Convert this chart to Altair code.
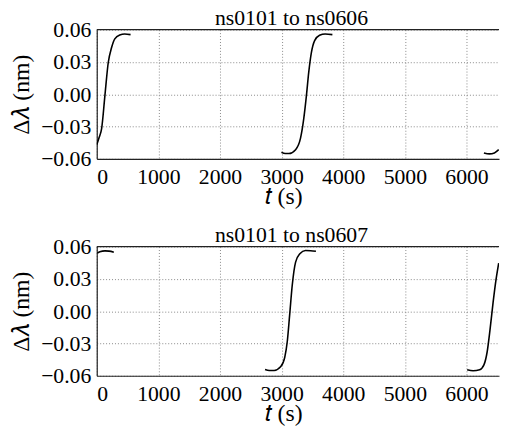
import altair as alt
import pandas as pd

# Panel 1: ns0101 to ns0606 -- three segments
p1_seg1_t = [0, 40, 80, 133, 187, 240, 293, 373, 453, 549]
p1_seg1_v = [-0.047, -0.040, -0.0316, -0.001, 0.0295, 0.0432, 0.0515, 0.0551, 0.056, 0.0554]
p1_seg2_t = [2997, 3060, 3120, 3227, 3307, 3360, 3403, 3440, 3483, 3536, 3616, 3707, 3824]
p1_seg2_v = [-0.0539, -0.0551, -0.0551, -0.0515, -0.0408, -0.0224, -0.0011, 0.0203, 0.0387, 0.0499, 0.0548, 0.056, 0.0554]
p1_seg3_t = [6283, 6373, 6453, 6523]
p1_seg3_v = [-0.0545, -0.0554, -0.0545, -0.0515]

# Panel 2: ns0101 to ns0607
p2_seg1_t = [10, 50, 133, 200, 277]
p2_seg1_v = [0.0539, 0.0552, 0.056, 0.0558, 0.0548]
p2_seg2_t = [2731, 2800, 2880, 2987, 3051, 3093, 3131, 3173, 3227, 3296, 3387, 3470, 3557]
p2_seg2_v = [-0.0542, -0.0551, -0.0551, -0.0515, -0.0429, -0.0277, -0.0032, 0.0243, 0.0456, 0.0533, 0.0563, 0.0562, 0.0557]
p2_seg3_t = [6011, 6107, 6213, 6283, 6336, 6384, 6432, 6480, 6523]
p2_seg3_v = [-0.0545, -0.0554, -0.0545, -0.0499, -0.0377, -0.0163, 0.0081, 0.0295, 0.0447]

titles = ["ns0101 to ns0606", "ns0101 to ns0607"]
x_ticks = [0, 1000, 2000, 3000, 4000, 5000, 6000]
y_ticks = [-0.06, -0.03, 0.0, 0.03, 0.06]
x_domain = [0, 6528]
y_domain = [-0.06, 0.06]

FONT = "Liberation Serif"


def frame(segs):
    rows = []
    for i, (ts, vs) in enumerate(segs):
        for t, v in zip(ts, vs):
            rows.append({"t": t, "v": v, "seg": i})
    return pd.DataFrame(rows)


def panel(df, title):
    base = alt.Chart(df)
    line = base.mark_line(color="black", strokeWidth=1.6, interpolate="monotone", clip=True).encode(
        x=alt.X("t:Q", scale=alt.Scale(domain=x_domain, nice=False, zero=False),
                axis=alt.Axis(values=x_ticks, format="d", title="𝑡\u00a0(s)", grid=True,
                              ticks=False, labelPadding=8, titleY=26, titleX=189,
                              titleBaseline="top", labelOverlap=False,
                              labelFont=FONT, labelFontSize=22, titleFont=FONT, titleFontSize=24)),
        y=alt.Y("v:Q", scale=alt.Scale(domain=y_domain, nice=False, zero=False),
                axis=alt.Axis(values=y_ticks, format=".2f", title="Δ𝜆\u00a0(nm)", grid=True,
                              ticks=False, labelPadding=6, titlePadding=7, labelOverlap=False,
                              labelFont=FONT, labelFontSize=22, titleFont=FONT, titleFontSize=24)),
        detail="seg:N",
    )
    top_border = alt.Chart(pd.DataFrame({"k": [0]})).mark_rule(color="#222", strokeWidth=1.2).encode(
        x=alt.value(0), x2=alt.value(408), y=alt.value(0)
    )
    return alt.layer(line, top_border).properties(
        width=408, height=131,
        title=alt.TitleParams(title, fontSize=22, font=FONT, fontWeight="normal",
                              offset=-11, dx=-6.5, anchor="middle",
                              frame="group", color="black"),
    )


df1 = frame([(p1_seg1_t, p1_seg1_v), (p1_seg2_t, p1_seg2_v), (p1_seg3_t, p1_seg3_v)])
df2 = frame([(p2_seg1_t, p2_seg1_v), (p2_seg2_t, p2_seg2_v), (p2_seg3_t, p2_seg3_v)])

chart = alt.vconcat(panel(df1, titles[0]), panel(df2, titles[1]), spacing=16).configure_view(
    stroke=None
).configure_axis(
    labelColor="black", titleFontWeight="normal", titleColor="black",
    domainColor="#222", domainWidth=1.2,
    gridColor="#888", gridDash=[1, 2], gridOpacity=1, gridWidth=1,
).properties(padding={"left": 2, "top": -4, "right": 0, "bottom": 0})

chart.save("out.html", embed_options={"renderer": "svg", "actions": False})
